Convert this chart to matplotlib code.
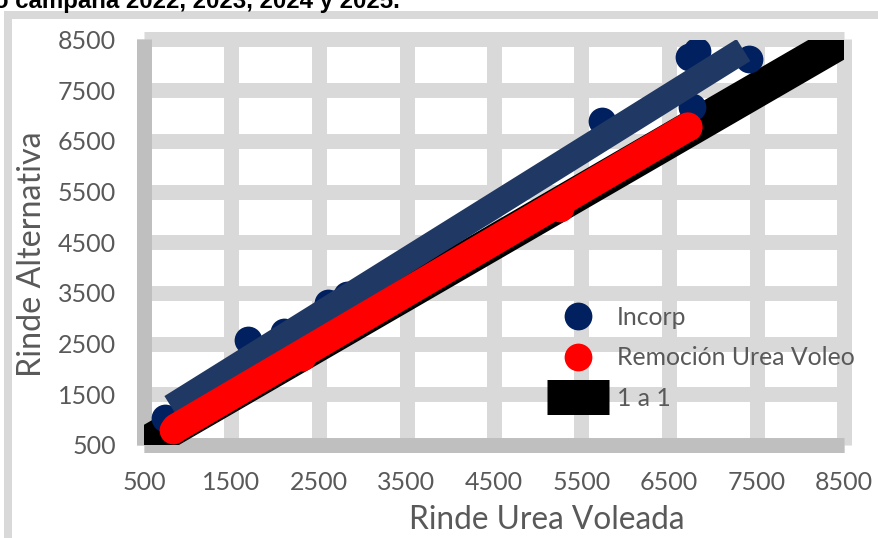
import matplotlib
matplotlib.use("Agg")
import matplotlib.pyplot as plt
from matplotlib.patches import Rectangle
from matplotlib.lines import Line2D

# ---- data ----
incorp_x = [740, 1690, 2100, 2600, 2820, 5740, 6760, 6730, 6820, 7410]
incorp_y = [1030, 2580, 2720, 3300, 3450, 6900, 7170, 8150, 8280, 8120]

remocion_x = [830, 2300, 5260, 6720]
remocion_y = [800, 2230, 5180, 6780]

incorp_trend_x = [812, 7351]
incorp_trend_y = [1248, 8292]

remocion_trend_x = [866, 6717]
remocion_trend_y = [837, 6777]

one_x = [500, 8500]
one_y = [500, 8500]

ticks = [500, 1500, 2500, 3500, 4500, 5500, 6500, 7500, 8500]
tick_labels = [str(t) for t in ticks]

title_text = "o campaña 2022, 2023, 2024 y 2025."
xlabel = "Rinde Urea Voleada"
ylabel = "Rinde Alternativa"
series_names = ["Incorp", "Remoción Urea Voleo", "1 a 1"]

# ---- styles ----
GRID = "#d9d9d9"
SPINE = "#bfbfbf"
TXT = "#595959"
NAVY_DOT = "#002060"
NAVY_LINE = "#203864"
RED = "#ff0000"
FONT = "Lato"
PX = 0.72  # points per pixel at dpi 100

W, H = 879, 538
fig = plt.figure(figsize=(W / 100, H / 100), dpi=100)
fig.patch.set_facecolor("white")

# outer frame
fig.add_artist(Rectangle((8 / W, -3 / H), 876 / W, 526 / H, transform=fig.transFigure,
                         fill=False, edgecolor=GRID, linewidth=8 * PX, zorder=0))

# cut-off title line
fig.text(-6 / W, 1 - 8 / H, title_text, fontfamily="Liberation Sans", fontweight="bold",
         fontsize=17.3, color="black", ha="left", va="baseline")

ax = fig.add_axes([144 / W, 93 / H, 700 / W, 405.5 / H])
ax.set_xlim(ticks[0], ticks[-1])
ax.set_ylim(ticks[0], ticks[-1])
ax.set_facecolor("none")

# grid
ax.vlines(ticks, ticks[0], ticks[-1], colors=GRID, linewidth=15 * PX, capstyle="butt",
          clip_on=False, zorder=0.2)
ax.hlines(ticks, ticks[0], ticks[-1], colors=GRID, linewidth=15 * PX, capstyle="butt",
          clip_on=False, zorder=0.2)

for s in ["top", "right"]:
    ax.spines[s].set_visible(False)
for s in ["left", "bottom"]:
    ax.spines[s].set_color(SPINE)
    ax.spines[s].set_linewidth(15 * PX)
    ax.spines[s].set_capstyle("butt")
    ax.spines[s].set_zorder(0.5)

ax.set_xticks(ticks)
ax.set_yticks(ticks)
ax.set_xticklabels(tick_labels)
ax.set_yticklabels(tick_labels)
ax.tick_params(length=0, labelsize=18, labelcolor=TXT)
ax.tick_params(axis="y", pad=20)
ax.tick_params(axis="x", pad=19)
for lab in ax.get_xticklabels() + ax.get_yticklabels():
    lab.set_fontfamily(FONT)

# series
one_line, = ax.plot(one_x, one_y, color="black", linewidth=35 * PX, solid_capstyle="butt",
                    zorder=1)
inc_pts, = ax.plot(incorp_x, incorp_y, linestyle="none", marker="o", markersize=20,
                   markerfacecolor=NAVY_DOT, markeredgewidth=0, zorder=2)
ax.plot(incorp_trend_x, incorp_trend_y, color=NAVY_LINE, linewidth=26 * PX,
        solid_capstyle="butt", zorder=3)
rem_pts, = ax.plot(remocion_x, remocion_y, linestyle="none", marker="o", markersize=20,
                   markerfacecolor=RED, markeredgewidth=0, zorder=4)
ax.plot(remocion_trend_x, remocion_trend_y, color=RED, linewidth=29 * PX,
        solid_capstyle="round", zorder=5)

# axis titles
ax.set_xlabel(xlabel, fontfamily=FONT, fontsize=22.8, color=TXT)
ax.xaxis.set_label_coords(0.576, -0.148)
ax.set_ylabel(ylabel, fontfamily=FONT, fontsize=23.2, color=TXT, va="center")
ax.yaxis.set_label_coords(-0.160, 0.471)

# legend
leg_line = Line2D([0], [0], color="black", linewidth=35 * PX, solid_capstyle="butt")
leg = ax.legend([inc_pts, rem_pts, leg_line], series_names, loc="upper left",
                bbox_to_anchor=(0.5757, 0.343), frameon=False, borderpad=0,
                borderaxespad=0, handlelength=2.5, handletextpad=0.32,
                labelspacing=0.70, numpoints=1,
                prop={"family": FONT, "size": 17.8})
for t in leg.get_texts():
    t.set_color(TXT)
leg.set_zorder(10)

fig.savefig("out.png", dpi=100)
